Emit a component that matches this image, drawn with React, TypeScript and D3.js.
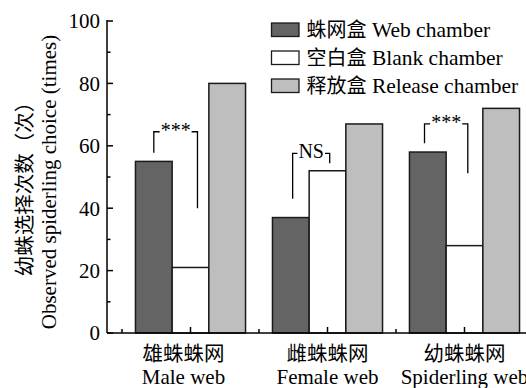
import React, { useRef, useEffect } from "react";
import * as d3 from "d3";

// data
const categoriesZh = ["雄蛛蛛网", "雌蛛蛛网", "幼蛛蛛网"];
const categoriesEn = ["Male web", "Female web", "Spiderling web"];
const seriesZh = ["蛛网盒", "空白盒", "释放盒"];
const seriesEn = ["Web chamber", "Blank chamber", "Release chamber"];
const webChamber = [55, 37, 58];
const blankChamber = [21, 52, 28];
const releaseChamber = [80, 67, 72];
const yTicks = [0, 20, 40, 60, 80, 100];
const yMinorTicks = [10, 30, 50, 70, 90];
const sigLabels = ["***", "NS", "***"];
const bracketTop = [64.5, 57.6, 67];
const bracketLeftEnd = [57.8, 43, 60.8];
const bracketRightEnd = [40, 54.4, 51.2];

// layout
const W = 526;
const H = 388;
const axisLeft = 107;
const bandStart = 122;
const bottom = 333;
const top = 21;
const colors = ["#646464", "#ffffff", "#bebebe"];
const bracketNudgeL = [0, 0.05, -0.09];
const bracketNudgeR = [0.19, 0.06, 0.09];
const FONT = "'Liberation Serif', 'Times New Roman', 'Noto Sans CJK SC', serif";

function App() {
  const SVG = useRef<SVGSVGElement>(null);

  useEffect(() => {
    const svg = d3.select(SVG.current);
    svg.selectAll("*").remove();

    const x = d3.scaleBand().domain(categoriesEn).range([bandStart, bandStart + 3 * 137]);
    const x1 = d3
      .scaleBand<number>()
      .domain([0, 1, 2])
      .range([0, x.bandwidth()])
      .paddingOuter(0.367);
    const y = d3.scaleLinear().domain([0, 100]).range([bottom, top]);

    const series = [webChamber, blankChamber, releaseChamber];

    // bars
    const g = svg.append("g");
    categoriesEn.forEach((c, i) => {
      series.forEach((s, k) => {
        g.append("rect")
          .attr("x", x(c)! + x1(k)!)
          .attr("y", y(s[i]))
          .attr("width", x1.bandwidth())
          .attr("height", y(0) - y(s[i]))
          .attr("fill", colors[k])
          .attr("stroke", "#1a1a1a")
          .attr("stroke-width", 1.5);
      });
    });

    // axes
    const ax = svg.append("g").attr("stroke", "#000").attr("stroke-width", 1.5);
    ax.append("line").attr("x1", axisLeft).attr("x2", axisLeft).attr("y1", top - 1).attr("y2", bottom);
    ax.append("line").attr("x1", axisLeft).attr("x2", W).attr("y1", bottom).attr("y2", bottom);
    yTicks.forEach(t => {
      ax.append("line").attr("x1", axisLeft).attr("x2", axisLeft + 6).attr("y1", y(t)).attr("y2", y(t));
    });
    yMinorTicks.forEach(t => {
      ax.append("line").attr("x1", axisLeft).attr("x2", axisLeft + 3.5).attr("y1", y(t)).attr("y2", y(t));
    });
    categoriesEn.forEach(c => {
      const cx = x(c)! + x.bandwidth() / 2;
      ax.append("line").attr("x1", cx).attr("x2", cx).attr("y1", bottom).attr("y2", bottom - 6);
      const bx = x(c)!;
      ax.append("line").attr("x1", bx).attr("x2", bx).attr("y1", bottom).attr("y2", bottom - 4);
    });

    svg
      .append("g")
      .selectAll("text")
      .data(yTicks)
      .enter()
      .append("text")
      .attr("x", axisLeft - 7)
      .attr("y", d => y(d))
      .attr("dy", "0.35em")
      .attr("text-anchor", "end")
      .attr("font-size", 21)
      .text(d => d);

    // category labels
    categoriesEn.forEach((c, i) => {
      const cx = x(c)! + x.bandwidth() / 2 + (i === 0 ? -7 : 0);
      svg.append("text").attr("x", cx).attr("y", 361).attr("text-anchor", "middle").attr("font-size", 20.5).text(categoriesZh[i]);
      svg.append("text").attr("x", cx).attr("y", 383.5).attr("text-anchor", "middle").attr("font-size", 21).text(c);
    });

    // y title
    svg
      .append("text")
      .attr("transform", "translate(32,184) rotate(-90)")
      .attr("text-anchor", "middle")
      .attr("font-size", 20.5)
      .text("幼蛛选择次数（次）");
    svg
      .append("text")
      .attr("transform", "translate(56,182) rotate(-90)")
      .attr("text-anchor", "middle")
      .attr("font-size", 21)
      .text("Observed spiderling choice (times)");

    // significance brackets
    categoriesEn.forEach((c, i) => {
      const bw = x1.bandwidth();
      const lx = x(c)! + x1(0)! + bw / 2 + bracketNudgeL[i] * bw;
      const rx = x(c)! + x1(1)! + bw / 2 + bracketNudgeR[i] * bw;
      const ty = y(bracketTop[i]);
      const mid = (lx + rx) / 2;
      const txt = svg
        .append("text")
        .attr("x", mid)
        .attr("y", ty + 5)
        .attr("text-anchor", "middle")
        .attr("font-size", 20)
        .text(sigLabels[i]);
      const tw = (txt.node() as SVGTextElement).getComputedTextLength();
      const b = svg.append("g").attr("stroke", "#000").attr("stroke-width", 1.3).attr("fill", "none");
      b.append("path").attr("d", `M${lx},${y(bracketLeftEnd[i])}V${ty}H${mid - tw / 2 - 1}`);
      b.append("path").attr("d", `M${mid + tw / 2 + 1},${ty}H${rx}V${y(bracketRightEnd[i])}`);
    });

    // legend
    const lg = svg.append("g");
    seriesZh.forEach((n, k) => {
      const ly = 23 + k * 28;
      lg.append("rect")
        .attr("x", 271.5)
        .attr("y", ly)
        .attr("width", 27.5)
        .attr("height", 13.5)
        .attr("fill", colors[k])
        .attr("stroke", "#1a1a1a")
        .attr("stroke-width", 1.3);
      const t = lg.append("text").attr("x", 306.5).attr("y", ly + 13.5).attr("font-size", 20);
      t.append("tspan").text(n);
      t.append("tspan").attr("font-size", 21.5).text(" " + seriesEn[k]);
    });
  }, []);

  return (
    <svg
      ref={SVG}
      width={W}
      height={H}
      style={{ position: "absolute", left: 0, top: 0, background: "#fff", fontFamily: FONT }}
    />
  );
}

export default App;
